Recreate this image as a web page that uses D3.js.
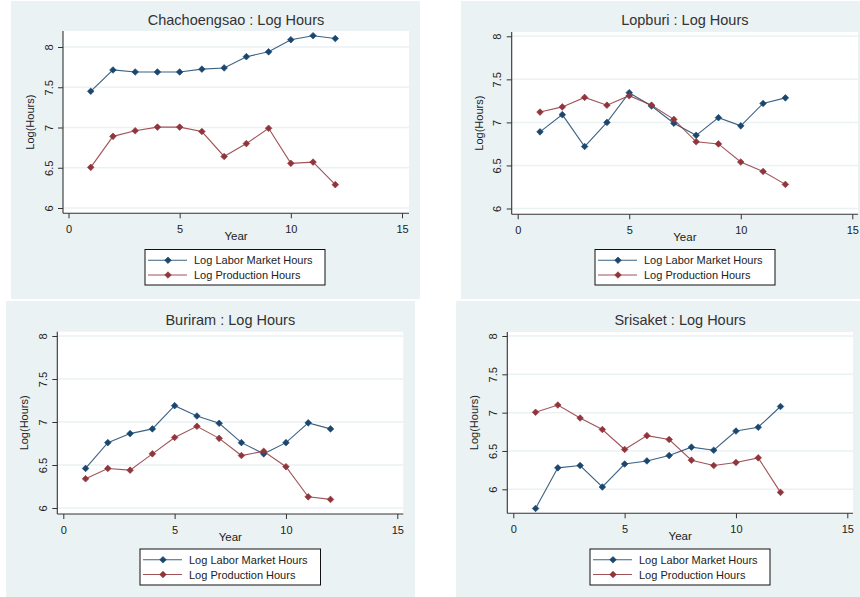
<!DOCTYPE html>
<html>
<head>
<meta charset="utf-8">
<script src="https://cdn.jsdelivr.net/npm/d3@7"></script>
<style>
  html, body { margin: 0; padding: 0; background: #ffffff; }
  svg { display: block; }
  text { font-family: "Liberation Sans", Arial, sans-serif; }
</style>
</head>
<body>
<svg id="chart" width="860" height="597"></svg>
<script>
// ---------------- DATA ----------------
const years = [1, 2, 3, 4, 5, 6, 7, 8, 9, 10, 11, 12];
const regions = ["Chachoengsao", "Lopburi", "Buriram", "Srisaket"];
const seriesNames = ["Log Labor Market Hours", "Log Production Hours"];
const xTicks = [0, 5, 10, 15];
const yTicks = [6, 6.5, 7, 7.5, 8];
const yTickLabels = ["6", "6.5", "7", "7.5", "8"];

const laborChachoengsao = [7.45, 7.715, 7.69, 7.69, 7.69, 7.725, 7.74, 7.88, 7.94, 8.09, 8.14, 8.105];
const prodChachoengsao  = [6.505, 6.89, 6.96, 7.005, 7.005, 6.95, 6.64, 6.80, 6.99, 6.555, 6.57, 6.29];

const laborLopburi = [6.89, 7.09, 6.72, 7.00, 7.345, 7.19, 6.99, 6.85, 7.055, 6.96, 7.22, 7.285];
const prodLopburi  = [7.12, 7.18, 7.29, 7.20, 7.31, 7.20, 7.035, 6.775, 6.75, 6.54, 6.43, 6.28];

const laborBuriram = [6.46, 6.76, 6.865, 6.92, 7.19, 7.07, 6.985, 6.76, 6.63, 6.76, 6.99, 6.92];
const prodBuriram  = [6.34, 6.46, 6.44, 6.63, 6.82, 6.95, 6.81, 6.61, 6.66, 6.48, 6.13, 6.10];

const laborSrisaket = [5.75, 6.28, 6.31, 6.03, 6.33, 6.37, 6.44, 6.55, 6.51, 6.76, 6.81, 7.08];
const prodSrisaket  = [7.005, 7.10, 6.93, 6.78, 6.52, 6.70, 6.65, 6.38, 6.31, 6.35, 6.41, 5.96];

const laborData = [laborChachoengsao, laborLopburi, laborBuriram, laborSrisaket];
const prodData  = [prodChachoengsao, prodLopburi, prodBuriram, prodSrisaket];

// ---------------- STYLE / LAYOUT ----------------
const colors = ["#1a476f", "#90353b"];
const bgColor = "#eaf2f3";
const gridColor = "#eaf2f3";
const textColor = "#222";

const layouts = [
  { bg: [11, 1, 409, 298],  plot: [63, 409, 31, 213.3],   xpx: [68.5, 402],   ypx: [208, 47],  legend: [145, 249.5, 180, 35.5], titleY: 25 },
  { bg: [461, 1, 399, 298], plot: [511.7, 858, 32, 214.3], xpx: [517.7, 852.3], ypx: [208.5, 36.3], legend: [595, 249.5, 180, 35.5], titleY: 25 },
  { bg: [6, 301, 409, 296], plot: [57.3, 403.3, 331.7, 514], xpx: [63.3, 397.3], ypx: [508, 336], legend: [140, 549, 180.5, 36], titleY: 325 },
  { bg: [456, 301, 404, 296], plot: [507.3, 853, 332, 513.3], xpx: [513.3, 847.3], ypx: [489.3, 336], legend: [590, 549, 180, 36], titleY: 325 }
];

const svg = d3.select("#chart");

function diamond(sel, color) {
  sel.attr("d", d3.symbol().type(d3.symbolSquare).size(22)())
     .attr("fill", color)
     .attr("stroke", color)
     .attr("stroke-width", 0.6);
}

regions.forEach((name, i) => {
  const L = layouts[i];
  const g = svg.append("g");
  // background
  g.append("rect").attr("x", L.bg[0]).attr("y", L.bg[1]).attr("width", L.bg[2]).attr("height", L.bg[3]).attr("fill", bgColor);
  const [pl, pr, pt, pb] = L.plot;
  // plot region
  g.append("rect").attr("x", pl).attr("y", pt).attr("width", pr - pl).attr("height", pb - pt).attr("fill", "#fff");

  const x = d3.scaleLinear().domain([0, 15]).range(L.xpx);
  const y = d3.scaleLinear().domain([6, 8]).range(L.ypx);

  // gridlines
  g.append("g").selectAll("line").data(yTicks).join("line")
    .attr("x1", pl).attr("x2", pr)
    .attr("y1", d => y(d)).attr("y2", d => y(d))
    .attr("stroke", gridColor).attr("stroke-width", 1.5);

  // y axis
  const yAxis = d3.axisLeft(y).tickValues(yTicks).tickSize(5).tickFormat((d, k) => yTickLabels[k]);
  const ya = g.append("g").attr("transform", `translate(${pl},0)`).call(yAxis);
  ya.select(".domain").attr("d", `M0,${pt}V${pb}`).attr("stroke", "#333").attr("stroke-width", 1.1);
  ya.selectAll(".tick line").attr("stroke", "#333").attr("stroke-width", 1);
  ya.selectAll(".tick text")
    .attr("x", null).attr("dy", null)
    .attr("transform", "translate(-10.5,0) rotate(-90)")
    .attr("text-anchor", "middle")
    .attr("font-size", 11).attr("fill", textColor)
    .attr("font-family", "'Liberation Sans', Arial, sans-serif");

  // x axis
  const xAxis = d3.axisBottom(x).tickValues(xTicks).tickSize(5).tickFormat(d3.format("d"));
  const xa = g.append("g").attr("transform", `translate(0,${pb})`).call(xAxis);
  xa.select(".domain").attr("d", `M${pl},0H${pr}`).attr("stroke", "#333").attr("stroke-width", 1.1);
  xa.selectAll(".tick line").attr("stroke", "#333").attr("stroke-width", 1);
  xa.selectAll(".tick text")
    .attr("y", 20).attr("dy", null)
    .attr("font-size", 11).attr("fill", textColor)
    .attr("font-family", "'Liberation Sans', Arial, sans-serif");

  // axis titles
  const cx = (pl + pr) / 2;
  g.append("text").attr("x", cx).attr("y", pb + 26.5).attr("text-anchor", "middle")
    .attr("font-size", 11.5).attr("fill", textColor).text("Year");
  const cy = (pt + pb) / 2;
  g.append("text").attr("transform", `translate(${pl - 29},${cy}) rotate(-90)`).attr("text-anchor", "middle")
    .attr("font-size", 11).attr("fill", textColor).text("Log(Hours)");

  // title
  g.append("text").attr("x", cx).attr("y", L.titleY).attr("text-anchor", "middle")
    .attr("font-size", 14.5).attr("fill", "#333").text(name + " : Log Hours");

  // series
  const series = [laborData[i], prodData[i]];
  const line = d3.line().x((d, k) => x(years[k])).y(d => y(d));
  series.forEach((vals, s) => {
    g.append("path").datum(vals).attr("d", line)
      .attr("fill", "none").attr("stroke", colors[s]).attr("stroke-width", 1.1).attr("stroke-opacity", 0.85);
    g.append("g").selectAll("path").data(vals).join("path")
      .attr("transform", (d, k) => `translate(${x(years[k])},${y(d)}) rotate(45)`)
      .call(diamond, colors[s]);
  });

  // legend
  const [lx, ly, lw, lh] = L.legend;
  const lg = g.append("g");
  lg.append("rect").attr("x", lx).attr("y", ly).attr("width", lw).attr("height", lh)
    .attr("fill", "#fff").attr("stroke", "#111").attr("stroke-width", 1);
  seriesNames.forEach((nm, s) => {
    const ry = ly + 10.8 + s * 14.7;
    lg.append("line").attr("x1", lx + 3).attr("x2", lx + 42).attr("y1", ry).attr("y2", ry)
      .attr("stroke", colors[s]).attr("stroke-width", 1.1).attr("stroke-opacity", 0.85);
    lg.append("path").attr("transform", `translate(${lx + 23},${ry}) rotate(45)`).call(diamond, colors[s]);
    lg.append("text").attr("x", lx + 49).attr("y", ry + 4).attr("font-size", 11)
      .attr("fill", textColor).text(nm);
  });
});
</script>
</body>
</html>
